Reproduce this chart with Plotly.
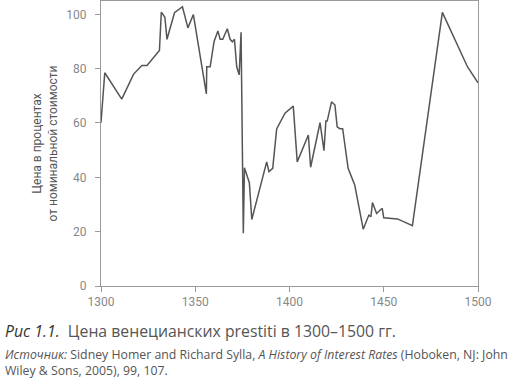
import plotly.graph_objects as go

years = [1300, 1302, 1311, 1317.3, 1321.7, 1324.4, 1331, 1332, 1333.9, 1335, 1339, 1343.2,
         1346.1, 1349, 1355.9, 1356.1, 1357.9, 1360, 1362, 1363.2, 1364.6, 1367, 1368.5,
         1369.7, 1370.8, 1372, 1373.3, 1374.3, 1375.5, 1376.1, 1378.7, 1380, 1387.9, 1389.1,
         1391.1, 1393.2, 1397.6, 1402, 1404.1, 1410, 1411.2, 1416.2, 1418.3, 1419.3, 1420,
         1422.3, 1424.1, 1425.3, 1426.7, 1428.2, 1431.1, 1434.2, 1434.6, 1439.1, 1442.1,
         1443.2, 1444, 1446.2, 1449.2, 1450, 1457.3, 1465.2, 1481.1, 1494.4, 1500]
prices = [60.1, 78.5, 68.8, 78, 81.2, 81.2, 86.7, 100.8, 98.9, 90.8, 100.6, 102.8,
          95, 99.9, 70.7, 80.7, 80.7, 90, 93.9, 90.8, 90.8, 94.7, 90.8,
          89.9, 90.8, 80.7, 77.7, 93.4, 19.4, 43.5, 38, 24.5, 45.7, 42.1,
          43.3, 57.8, 63.6, 66.2, 45.7, 55.6, 43.7, 60.1, 49.8, 60.7, 60.7,
          67.8, 66.6, 58.6, 57.9, 57.9, 43.3, 38, 37.2, 20.9, 26.1,
          25.5, 30.7, 26.7, 28.6, 25.1, 24.7, 22.2, 100.7, 80.7, 74.8]

x_ticks = [1300, 1350, 1400, 1450, 1500]
y_ticks = [0, 20, 40, 60, 80, 100]

y_title = "Цена в процентах<br>от номинальной стоимости"
caption_label = "Рис 1.1."
caption_text = "Цена венецианских prestiti в 1300–1500 гг."
source_text = ("<i>Источник:</i> Sidney Homer and Richard Sylla, <i>A History of Interest Rates</i> "
               "(Hoboken, NJ: John<br>Wiley &amp; Sons, 2005), 99, 107.")

W, H = 513, 383
L, R, T, B = 100.7, 478.3, 1, 286

def px(x):
    return (x - L) / (R - L)

def py(y):
    return (B - y) / (B - T)

fig = go.Figure()
fig.add_trace(go.Scatter(x=years, y=prices, mode="lines",
                         line=dict(color="#555555", width=1.5), showlegend=False))

tick_font = "Roboto, 'DejaVu Sans', sans-serif"
text_font = "'Open Sans', Roboto, sans-serif"
axis_common = dict(showgrid=False, zeroline=False, showline=True, linecolor="#9a9a9a",
                   linewidth=1, mirror=True, ticks="outside", ticklen=5, tickcolor="#9a9a9a",
                   tickfont=dict(family=tick_font, size=12, color="#888888"))

fig.update_xaxes(range=[1300, 1500], tickvals=x_ticks, **axis_common)
fig.update_yaxes(range=[0, 104.9], tickvals=y_ticks, ticklabelstandoff=6,
                 title=dict(text=y_title, font=dict(family=tick_font, size=12, color="#555555"),
                            standoff=6),
                 **axis_common)

fig.add_annotation(xref="paper", yref="paper", x=px(3), y=py(331), xanchor="left", yanchor="middle",
                   showarrow=False, align="left",
                   text=f"<i>{caption_label}</i>  <span style='color:#555555'>{caption_text}</span>",
                   font=dict(family=text_font, size=15.8, color="#333333"))
fig.add_annotation(xref="paper", yref="paper", x=px(3), y=py(362), xanchor="left", yanchor="middle",
                   showarrow=False, align="left", text=source_text,
                   font=dict(family=text_font, size=12.3, color="#555555"))

fig.update_layout(width=W, height=H, margin=dict(l=L, r=W - R, t=T, b=H - B),
                  plot_bgcolor="white", paper_bgcolor="white")

fig.write_html("out.html", config={"displayModeBar": False},
               post_script="document.body.style.margin='0';")
